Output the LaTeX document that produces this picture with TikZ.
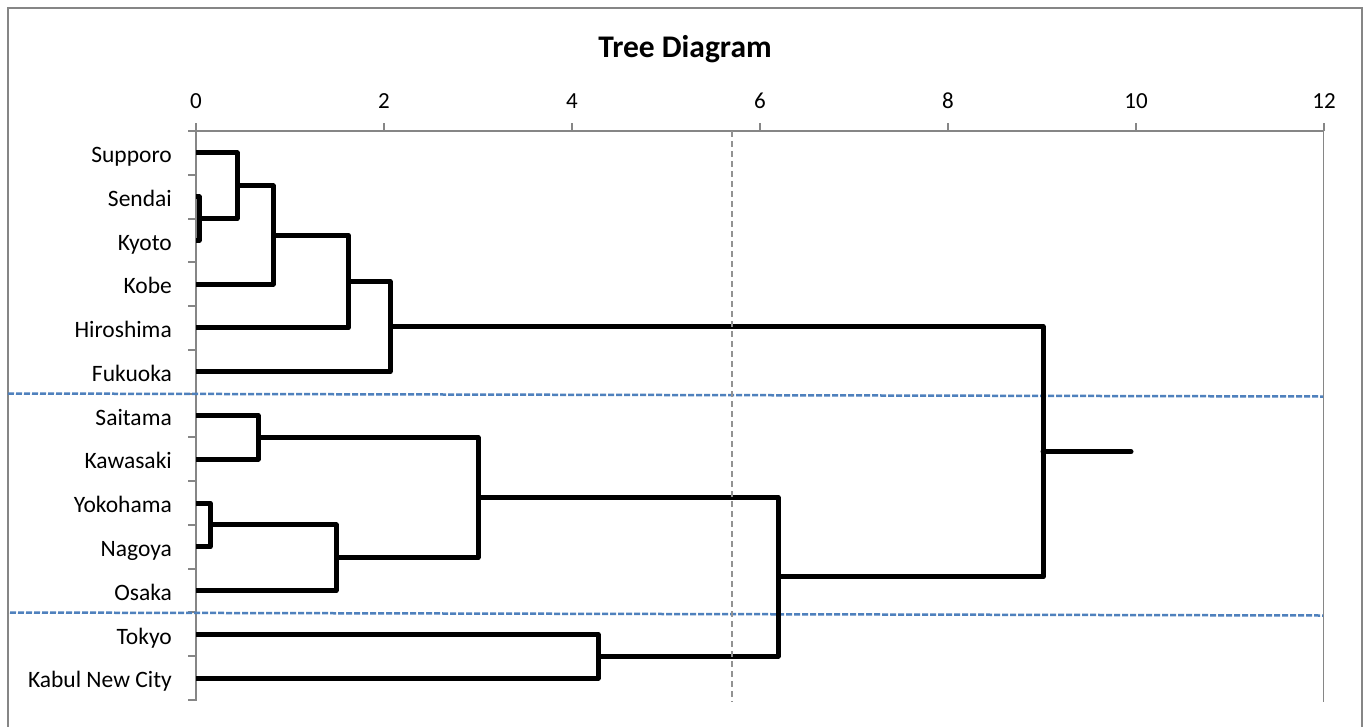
\documentclass[tikz,border=0pt]{standalone}
\usepackage{fontspec}
\setmainfont{Carlito}
\definecolor{axisgray}{HTML}{868686}
\definecolor{groupblue}{HTML}{4F81BD}
\tikzset{
  frame/.style={draw=axisgray, line width=2pt},
  axisline/.style={draw=axisgray, line width=2pt},
  cutline/.style={draw=axisgray!90, line width=2pt, dash pattern=on 6pt off 4pt},
  groupline/.style={draw=groupblue, line width=2.5pt, dash pattern=on 6pt off 2pt},
  link/.style={draw=black, line width=5pt, line join=round},
  city/.style={font=\fontsize{23.5}{28}\selectfont, anchor=base east, inner sep=0pt},
  ticklabel/.style={font=\fontsize{23}{28}\selectfont, anchor=base, inner sep=0pt},
  titlelabel/.style={font=\fontsize{31.5}{38}\selectfont\bfseries, anchor=base, inner sep=0pt}
}
\begin{document}
\begin{tikzpicture}[x=1pt, y=-1pt]
  \clip (0,0) rectangle (1367,726);
  \fill[white] (0,0) rectangle (1367,726);
  % chart border (open at the bottom edge of the page)
  \draw[frame] (8,8) rectangle (1362,760);

  % title
  \node[titlelabel] (title) at (685,57) {Tree Diagram};

  % distance axis along the top
  \draw[axisline] (188,131) -- (1324,131);
  \foreach \v in {0,2,...,12} {
    \draw[axisline] ({196+94*\v},123) -- ({196+94*\v},131);
    \node[ticklabel] (tick\v) at ({196+94*\v},108) {\v};
  }
  % category axis and right border of the plot area
  \draw[axisline] (196,131) -- (196,700.5);
  \foreach \k in {0,...,13}
    \draw[axisline] (188,{131+43.77*\k}) -- (196,{131+43.77*\k});
  \draw[draw=axisgray, line width=1.5pt] (1323.5,131) -- (1323.5,702);

  % cities and leaf points
  \foreach \name/\txt [count=\i from 0] in {
      supporo/Supporo, sendai/Sendai, kyoto/Kyoto, kobe/Kobe,
      hiroshima/Hiroshima, fukuoka/Fukuoka, saitama/Saitama,
      kawasaki/Kawasaki, yokohama/Yokohama, nagoya/Nagoya,
      osaka/Osaka, tokyo/Tokyo, kabul/Kabul New City} {
    \node[city] (lbl-\name) at (172,{131+43.77*(\i+0.5)+9.7}) {\txt};
    \coordinate (\name) at (196,{131+43.77*(\i+0.5)});
  }

  % group separators
  \draw[groupline] (8,393.5) -- (1323,396.5);
  \draw[groupline] (10,612.5) -- (1323,615.5);

  % merge points (x = joining distance, y = middle of the two branches)
  \coordinate (m-sk)   at (199,218.6);
  \coordinate (m-ssk)  at (237,185.7);
  \coordinate (m-kb)   at (273,235.0);
  \coordinate (m-hi)   at (348,281.5);
  \coordinate (m-fu)   at (390,326.6);
  \coordinate (m-sa)   at (258,437.4);
  \coordinate (m-yn)   at (210,524.9);
  \coordinate (m-os)   at (336,557.7);
  \coordinate (m-mid)  at (478,497.6);
  \coordinate (m-tk)   at (598,656.3);
  \coordinate (m-low)  at (778,576.9);
  \coordinate (m-root) at (1043,451.8);
  \coordinate (root-end) at (1131,451.8);

  % dendrogram links
  \draw[link] (sendai) -| (m-sk) |- (kyoto);
  \draw[link] (supporo) -| (m-ssk) |- (m-sk);
  \draw[link] (m-ssk) -| (m-kb) |- (kobe);
  \draw[link] (m-kb) -| (m-hi) |- (hiroshima);
  \draw[link] (m-hi) -| (m-fu) |- (fukuoka);
  \draw[link] (saitama) -| (m-sa) |- (kawasaki);
  \draw[link] (yokohama) -| (m-yn) |- (nagoya);
  \draw[link] (m-yn) -| (m-os) |- (osaka);
  \draw[link] (m-sa) -| (m-mid) |- (m-os);
  \draw[link] (tokyo) -| (m-tk) |- (kabul);
  \draw[link] (m-mid) -| (m-low) |- (m-tk);
  \draw[link] (m-fu) -| (m-root) |- (m-low);
  \draw[link, line cap=round] (m-root) -- (root-end);

  % cut-off level
  \draw[cutline] (732,131) -- (732,702);
\end{tikzpicture}
\end{document}
